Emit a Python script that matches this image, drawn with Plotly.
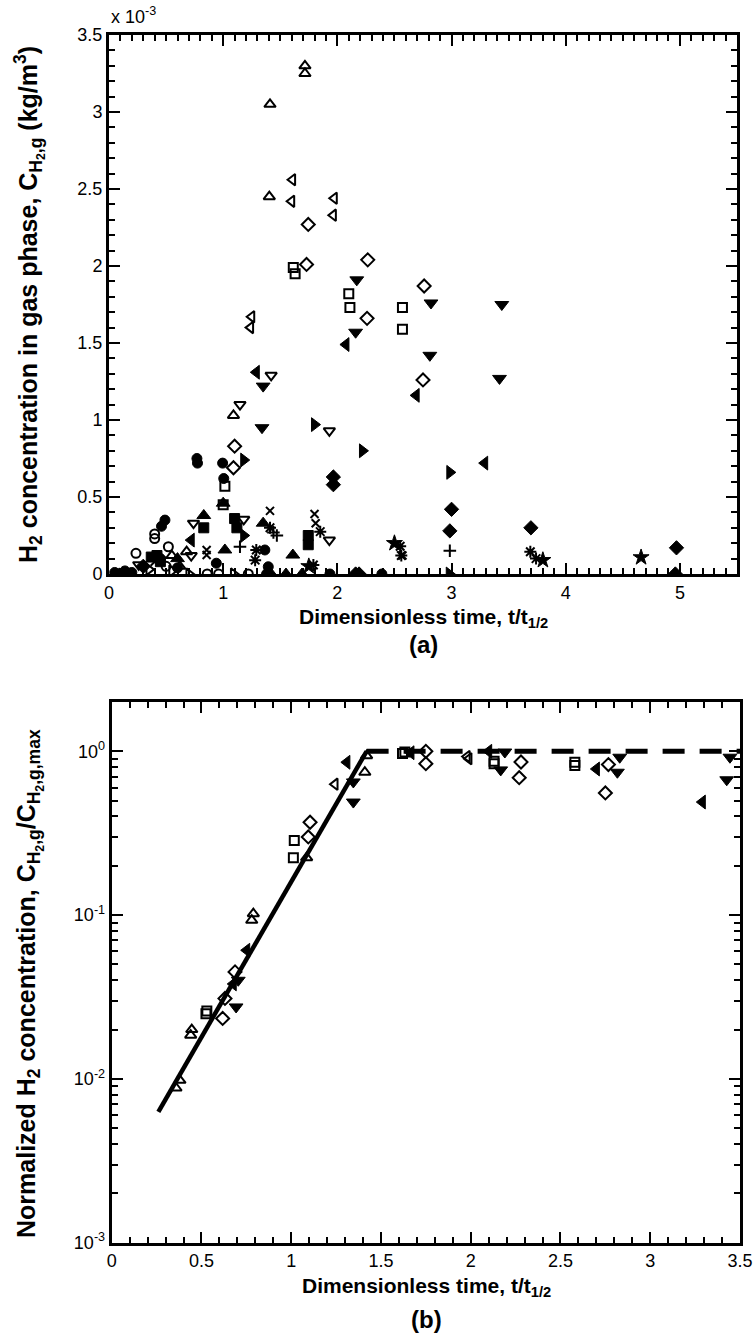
import plotly.graph_objects as go

W, H = 756, 1337

# ---------------- Panel (a): C_H2,g (x 1e-3 kg/m3) vs t/t1/2 ----------------
a_tri_up_open_x = [1.716, 1.716, 1.41, 1.404, 1.09, 0.68, 0.55, 0.62]
a_tri_up_open_y = [3.30, 3.25, 3.05, 2.45, 1.03, 0.145, 0.12, 0.05]
a_tri_left_open_x = [1.608, 1.60, 1.973, 1.965, 1.25, 1.24]
a_tri_left_open_y = [2.56, 2.42, 2.44, 2.33, 1.67, 1.60]
a_diamond_open_x = [1.745, 1.73, 2.266, 2.76, 2.26, 2.75, 1.10, 1.09]
a_diamond_open_y = [2.27, 2.01, 2.04, 1.87, 1.66, 1.26, 0.83, 0.69]
a_square_open_x = [1.614, 1.63, 2.10, 2.11, 2.57, 2.57, 1.015, 1.0]
a_square_open_y = [1.99, 1.95, 1.82, 1.73, 1.73, 1.59, 0.57, 0.45]
a_tri_down_x = [2.17, 2.16, 2.82, 3.44, 2.81, 3.42, 1.35, 1.34]
a_tri_down_y = [1.91, 1.57, 1.76, 1.75, 1.42, 1.27, 1.22, 0.95]
a_tri_left_x = [2.075, 2.69, 1.29, 3.29, 0.72]
a_tri_left_y = [1.49, 1.16, 1.31, 0.72, 0.22]
a_tri_down_open_x = [1.42, 1.147, 1.93, 0.74, 1.18, 1.93, 0.26, 0.72]
a_tri_down_open_y = [1.29, 1.10, 0.93, 0.33, 0.355, 0.22, 0.06, 0.12]
a_tri_right_x = [1.80, 2.22, 1.18, 2.985, 1.18, 2.98]
a_tri_right_y = [0.97, 0.80, 0.74, 0.66, 0.25, 0.0]
a_tri_right_open_x = [0.70, 1.09, 0.35, 0.55]
a_tri_right_open_y = [0.0, 0.0, 0.03, 0.02]
a_circle_x = [0.77, 0.775, 0.995, 1.005, 0.49, 0.46, 1.365, 1.395, 0.94, 1.935, 2.39, 0.05, 0.10, 0.14, 0.20, 1.38, 0.45, 0.60]
a_circle_y = [0.75, 0.72, 0.72, 0.62, 0.35, 0.31, 0.156, 0.047, 0.07, 0.0, 0.0, 0.01, 0.0, 0.02, 0.01, 0.0, 0.1, 0.04]
a_diamond_x = [1.965, 1.965, 3.0, 2.985, 3.695, 4.97, 4.96, 2.16, 0.30, 2.19]
a_diamond_y = [0.63, 0.58, 0.42, 0.28, 0.30, 0.17, 0.0, 0.0, 0.05, 0.0]
a_square_x = [0.83, 1.10, 1.12, 1.745, 1.745, 0.37, 0.45, 0.42]
a_square_y = [0.30, 0.36, 0.30, 0.25, 0.19, 0.11, 0.08, 0.12]
a_tri_up_x = [0.83, 1.0, 1.35, 1.015, 1.61, 1.69, 1.42, 0.60, 1.55]
a_tri_up_y = [0.38, 0.46, 0.33, 0.156, 0.123, 0.0, 0.0, 0.10, 0.0]
a_x_x = [1.41, 1.80, 1.81, 0.855, 0.855, 2.57, 0.40]
a_x_y = [0.41, 0.39, 0.33, 0.156, 0.123, 0.12, 0.08]
a_cross_x = [1.147, 1.47, 2.985, 1.44]
a_cross_y = [0.177, 0.25, 0.151, 0.27]
a_asterisk_x = [1.41, 1.29, 1.28, 1.85, 1.79, 2.55, 2.56, 3.69, 3.74, 0.12]
a_asterisk_y = [0.30, 0.156, 0.09, 0.275, 0.058, 0.18, 0.12, 0.145, 0.10, 0.01]
a_star_x = [4.66, 3.80, 2.50, 1.75]
a_star_y = [0.108, 0.09, 0.20, 0.05]
a_circle_open_x = [0.40, 0.40, 0.236, 0.52, 0.86, 0.96, 1.22, 0.50]
a_circle_open_y = [0.26, 0.23, 0.134, 0.177, 0.0, 0.0, 0.0, 0.05]

# ---------------- Panel (b): normalised concentration ----------------
b_tri_up_open_x = [1.42, 1.41, 1.086, 0.789, 0.78, 0.446, 0.44, 0.38, 0.358]
b_tri_up_open_y = [0.94, 0.745, 0.224, 0.102, 0.093, 0.020, 0.0185, 0.0098, 0.0088]
b_tri_left_open_x = [1.244, 1.98, 1.99]
b_tri_left_open_y = [0.63, 0.93, 0.90]
b_tri_left_x = [1.31, 0.752, 0.677, 1.667, 2.10, 2.70, 3.29]
b_tri_left_y = [0.857, 0.061, 0.038, 0.98, 1.0, 0.78, 0.49]
b_tri_down_x = [1.346, 1.346, 0.705, 0.693, 2.19, 2.167, 2.83, 2.817, 3.444, 3.426]
b_tri_down_y = [0.65, 0.49, 0.040, 0.0275, 0.99, 0.77, 0.92, 0.745, 0.92, 0.67]
b_diamond_open_x = [1.105, 1.095, 0.687, 0.631, 0.618, 1.75, 1.75, 2.28, 2.27, 2.767, 2.75]
b_diamond_open_y = [0.369, 0.30, 0.045, 0.031, 0.0234, 1.0, 0.84, 0.86, 0.69, 0.83, 0.557]
b_square_open_x = [1.017, 1.012, 0.525, 0.53, 1.633, 1.62, 2.13, 2.13, 2.58, 2.58]
b_square_open_y = [0.285, 0.224, 0.025, 0.026, 0.99, 0.97, 0.84, 0.87, 0.857, 0.818]
fit_rise_x = [0.26, 1.42]
fit_rise_y = [0.0063, 1.0]
fit_plateau_x = [1.42, 3.5]
fit_plateau_y = [1.0, 1.0]

fig = go.Figure()

def add(xs, ys, symbol, xa, ya, size=10, openm=False):
    fig.add_trace(go.Scatter(
        x=xs, y=ys, mode="markers", xaxis=xa, yaxis=ya, showlegend=False,
        marker=dict(symbol=symbol, size=size, color="black",
                    line=dict(color="black", width=2 if openm else 1)),
    ))

# panel (a)
add(a_tri_up_open_x, a_tri_up_open_y, "triangle-up-open", "x", "y", 10, True)
add(a_tri_left_open_x, a_tri_left_open_y, "triangle-left-open", "x", "y", 10, True)
add(a_diamond_open_x, a_diamond_open_y, "diamond-open", "x", "y", 10, True)
add(a_square_open_x, a_square_open_y, "square-open", "x", "y", 9, True)
add(a_tri_down_x, a_tri_down_y, "triangle-down", "x", "y", 12)
add(a_tri_left_x, a_tri_left_y, "triangle-left", "x", "y", 12)
add(a_tri_down_open_x, a_tri_down_open_y, "triangle-down-open", "x", "y", 10, True)
add(a_tri_right_x, a_tri_right_y, "triangle-right", "x", "y", 12)
add(a_tri_right_open_x, a_tri_right_open_y, "triangle-right-open", "x", "y", 10, True)
add(a_circle_x, a_circle_y, "circle", "x", "y", 10)
add(a_diamond_x, a_diamond_y, "diamond", "x", "y", 11)
add(a_square_x, a_square_y, "square", "x", "y", 10)
add(a_tri_up_x, a_tri_up_y, "triangle-up", "x", "y", 12)
add(a_x_x, a_x_y, "x-thin-open", "x", "y", 8, True)
add(a_cross_x, a_cross_y, "cross-thin-open", "x", "y", 9, True)
add(a_asterisk_x, a_asterisk_y, "asterisk-open", "x", "y", 10, True)
add(a_star_x, a_star_y, "star", "x", "y", 12)
add(a_circle_open_x, a_circle_open_y, "circle-open", "x", "y", 9, True)

# panel (b)
fig.add_trace(go.Scatter(x=fit_rise_x, y=fit_rise_y, mode="lines", xaxis="x2", yaxis="y2",
                         showlegend=False, line=dict(color="black", width=4.5)))
fig.add_trace(go.Scatter(x=fit_plateau_x, y=fit_plateau_y, mode="lines", xaxis="x2", yaxis="y2",
                         showlegend=False, line=dict(color="black", width=5, dash="22px,15px")))
add(b_tri_up_open_x, b_tri_up_open_y, "triangle-up-open", "x2", "y2", 10, True)
add(b_tri_left_open_x, b_tri_left_open_y, "triangle-left-open", "x2", "y2", 10, True)
add(b_tri_left_x, b_tri_left_y, "triangle-left", "x2", "y2", 12)
add(b_tri_down_x, b_tri_down_y, "triangle-down", "x2", "y2", 12)
add(b_diamond_open_x, b_diamond_open_y, "diamond-open", "x2", "y2", 10, True)
add(b_square_open_x, b_square_open_y, "square-open", "x2", "y2", 9, True)

def px_x(px):
    return px / W

def px_y(py):
    return 1 - py / H

TICKFONT = dict(family="Liberation Sans, Arial, sans-serif", size=18, color="black")
TITLEFONT = dict(family="Liberation Sans Narrow, Liberation Sans, Arial, sans-serif", size=21, color="black")
VTITLEFONT = dict(family="Liberation Sans, Arial, sans-serif", size=25, color="black")

axis_common = dict(showline=True, linecolor="black", linewidth=3, mirror="allticks",
                   ticks="inside", ticklen=11, tickwidth=2, tickcolor="black",
                   showgrid=False, zeroline=False, automargin=False, tickfont=TICKFONT)
minor_common = dict(ticks="inside", ticklen=6, tickwidth=2, tickcolor="black")

fig.update_layout(
    width=W, height=H, margin=dict(l=0, r=0, t=0, b=0),
    paper_bgcolor="white", plot_bgcolor="white",
    xaxis=dict(domain=[px_x(109), px_x(737)], range=[0, 5.5], anchor="y",
               tickvals=[0, 1, 2, 3, 4, 5],
               ticktext=["0", "1", "2", "3", "4", "5"],
               minor=dict(dtick=0.1, tick0=0, **minor_common),
               **axis_common),
    yaxis=dict(domain=[px_y(574), px_y(35)], range=[0, 3.5], anchor="x",
               tickvals=[0, 0.5, 1, 1.5, 2, 2.5, 3, 3.5],
               ticktext=["0", "0.5", "1", "1.5", "2", "2.5", "3", "3.5"],
               minor=dict(dtick=0.1, tick0=0, **minor_common),
               **axis_common),
    xaxis2=dict(domain=[px_x(111.7), px_x(740)], range=[0, 3.5], anchor="y2",
                tickvals=[0, 0.5, 1, 1.5, 2, 2.5, 3, 3.5],
                ticktext=["0", "0.5", "1", "1.5", "2", "2.5", "3", "3.5"],
                minor=dict(dtick=0.1, tick0=0, **minor_common),
                **axis_common),
    yaxis2=dict(domain=[px_y(1242.7), px_y(702)], type="log", range=[-3, 0.301], anchor="x2",
                tickvals=[0.001, 0.01, 0.1, 1],
                ticktext=["10<sup>-3</sup>", "10<sup>-2</sup>", "10<sup>-1</sup>", "10<sup>0</sup>"],
                minor=dict(dtick="D1", **minor_common),
                **axis_common),
)

ann = []
def text(x, y, s, font, angle=0, xanchor="center", yanchor="middle"):
    ann.append(dict(x=px_x(x), y=px_y(y), xref="paper", yref="paper", text=s, showarrow=False,
                    font=font, textangle=angle, xanchor=xanchor, yanchor=yanchor))

text(423, 618, "<b>Dimensionless time, t/t<sub>1/2</sub></b>", TITLEFONT)
text(423, 645, "<b>(a)</b>", dict(family="Liberation Sans, Arial", size=24, color="black"))
text(29, 305, "<b>H<sub>2</sub> concentration in gas phase, C<sub>H<sub>2</sub>,g</sub> (kg/m<sup>3</sup>)</b>", VTITLEFONT, angle=-90)
text(109, 16, "x 10<sup>-3</sup>", dict(family="Liberation Sans, Arial", size=18, color="black"), xanchor="left")
text(426, 1287, "<b>Dimensionless time, t/t<sub>1/2</sub></b>", TITLEFONT)
text(426, 1319, "<b>(b)</b>", dict(family="Liberation Sans, Arial", size=24, color="black"))
text(29, 984, "<b>Normalized H<sub>2</sub> concentration, C<sub>H<sub>2</sub>,g</sub>/C<sub>H<sub>2</sub>,g,max</sub></b>", VTITLEFONT, angle=-90)
fig.update_layout(annotations=ann)

fig.write_html("out.html")
